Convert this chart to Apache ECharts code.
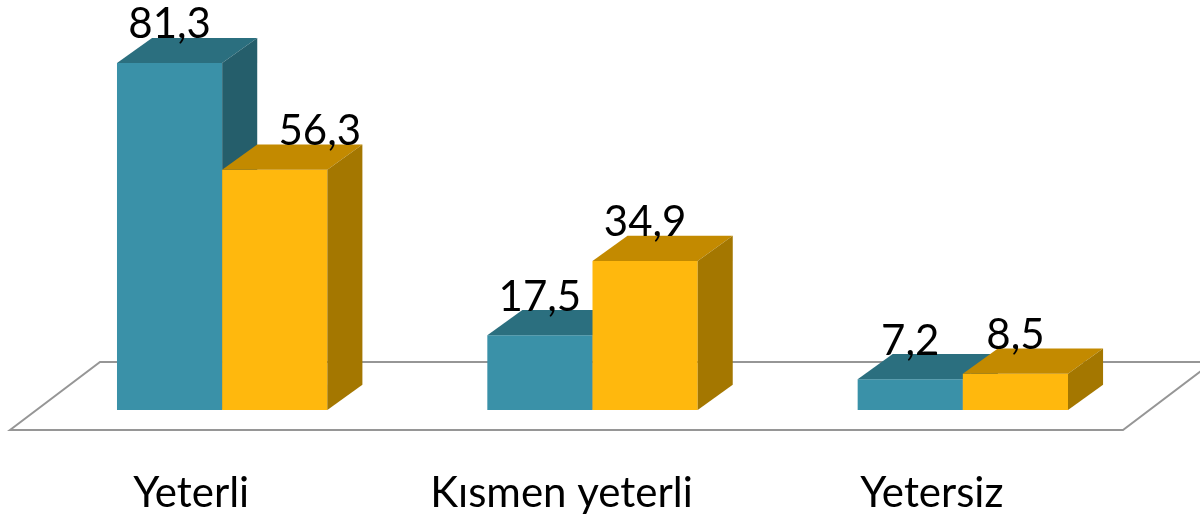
<!DOCTYPE html>
<html>
<head>
<meta charset="utf-8">
<script src="https://cdn.jsdelivr.net/npm/echarts@6/dist/echarts.min.js"></script>
<style>
  html, body { margin: 0; padding: 0; background: #fff; }
  #chart { width: 1200px; height: 520px; }
</style>
</head>
<body>
<div id="chart"></div>
<script>
// chart data
const categories = ['Yeterli', 'Kısmen yeterli', 'Yetersiz'];
const seriesA = [81.3, 17.5, 7.2];
const seriesB = [56.3, 34.9, 8.5];

const FONT = 'Lato, "Open Sans", sans-serif';

// 3d bar: front, top, side faces + value label
function barRenderer(slot, colors, nudge) {
  return function (params, api) {
    const x = api.value(0);
    const v = api.value(1);
    const base = api.coord([x, 0]);
    const top = api.coord([x, v]);
    const band = api.size([1, 0])[0];
    const w = band * 0.284;
    const dx = w / 3;
    const dy = -w * 0.24;
    const x0 = slot === 0 ? base[0] - w : base[0];
    const x1 = x0 + w;
    const yb = base[1];
    const yt = top[1];
    return {
      type: 'group',
      children: [
        {
          type: 'polygon',
          shape: { points: [[x0, yb], [x1, yb], [x1, yt], [x0, yt]] },
          style: { fill: colors[0] }
        },
        {
          type: 'polygon',
          shape: { points: [[x0, yt], [x1, yt], [x1 + dx, yt + dy], [x0 + dx, yt + dy]] },
          style: { fill: colors[1] }
        },
        {
          type: 'polygon',
          shape: { points: [[x1, yb], [x1 + dx, yb + dy], [x1 + dx, yt + dy], [x1, yt]] },
          style: { fill: colors[2] }
        },
        {
          type: 'text',
          z2: 10,
          style: {
            text: String(v).replace('.', ','),
            x: (x0 + x1) / 2 + (nudge[params.dataIndex] || 0),
            y: yt + dy + 8,
            align: 'center',
            verticalAlign: 'bottom',
            font: '42px ' + FONT,
            fill: '#000'
          }
        }
      ]
    };
  };
}

// floor parallelogram under the bars
function floorRenderer(params, api) {
  const cs = params.coordSys;
  const yf = cs.y + cs.height + 20;
  const xl = cs.x - 27;
  const xr = cs.x + cs.width - 25;
  const bx = 90, by = -68;
  return {
    type: 'polygon',
    shape: { points: [[xl, yf], [xl + bx, yf + by], [xr + bx, yf + by], [xr, yf]] },
    style: { fill: 'none', stroke: '#969696', lineWidth: 2 }
  };
}

const chart = echarts.init(document.getElementById('chart'), null, { renderer: 'canvas' });

chart.setOption({
  backgroundColor: '#ffffff',
  animation: false,
  grid: { left: 37, right: 52, top: 26, bottom: 110 },
  xAxis: {
    type: 'category',
    data: categories,
    axisLine: { show: false },
    axisTick: { show: false },
    axisLabel: {
      margin: 62,
      fontSize: 42,
      fontFamily: FONT,
      color: '#000',
      padding: [0, 62, 0, 0]
    }
  },
  yAxis: {
    type: 'value',
    min: 0,
    max: 90,
    show: false
  },
  series: [
    {
      type: 'custom',
      silent: true,
      clip: false,
      z: 1,
      renderItem: floorRenderer,
      data: [[0, 0]]
    },
    {
      type: 'custom',
      clip: false,
      z: 2,
      renderItem: barRenderer(0, ['#3a91a8', '#2b6f7f', '#255e6b'], {}),
      encode: { x: 0, y: 1 },
      data: seriesA.map((v, i) => [i, v])
    },
    {
      type: 'custom',
      clip: false,
      z: 3,
      renderItem: barRenderer(1, ['#ffb80d', '#c38a00', '#a47700'], { 0: 45 }),
      encode: { x: 0, y: 1 },
      data: seriesB.map((v, i) => [i, v])
    }
  ]
});
</script>
</body>
</html>
